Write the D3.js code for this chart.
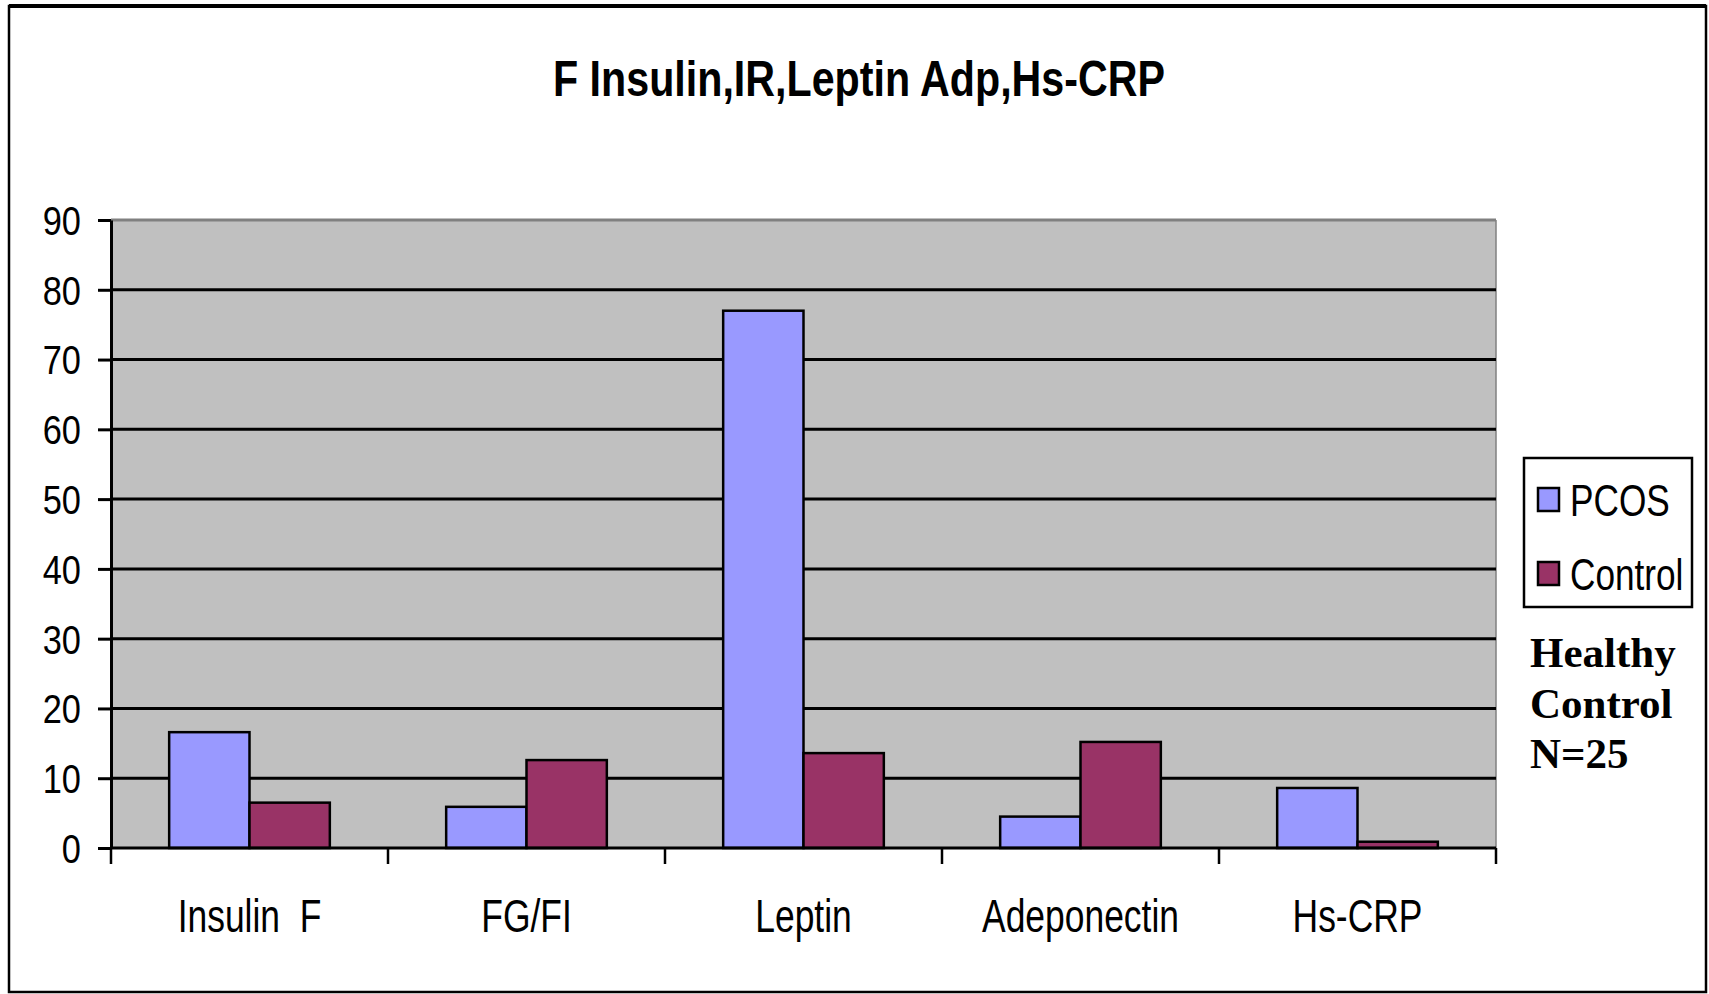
<!DOCTYPE html>
<html>
<head>
<meta charset="utf-8">
<script src="https://cdn.jsdelivr.net/npm/d3@7"></script>
<style>
body { margin: 0; background: #fff; }
svg { display: block; }
</style>
</head>
<body>
<svg id="chart" width="1709" height="994"></svg>
<script>
// chart data
var categories = ["Insulin  F", "FG/FI", "Leptin", "Adeponectin", "Hs-CRP"];
var seriesNames = ["PCOS", "Control"];
var pcos = [16.6, 5.9, 77, 4.5, 8.6];
var control = [6.5, 12.6, 13.6, 15.2, 0.9];
var yTicks = [0, 10, 20, 30, 40, 50, 60, 70, 80, 90];
var noteLines = ["Healthy", "Control", "N=25"];

var colors = ["#9999ff", "#993366"];
var svg = d3.select("#chart");

// outer frame
svg.append("rect")
    .attr("x", 9).attr("y", 6)
    .attr("width", 1697).attr("height", 986)
    .attr("fill", "none")
    .attr("stroke", "#000")
    .attr("stroke-width", 2.5);
svg.append("line")
    .attr("x1", 9).attr("x2", 1706)
    .attr("y1", 6).attr("y2", 6)
    .attr("stroke", "#000").attr("stroke-width", 4);

// title
svg.append("text")
    .attr("x", 859).attr("y", 96)
    .attr("text-anchor", "middle")
    .attr("font-family", "Liberation Sans, Arial, sans-serif")
    .attr("font-weight", "bold")
    .attr("font-size", 50)
    .attr("textLength", 612)
    .attr("lengthAdjust", "spacingAndGlyphs")
    .text("F Insulin,IR,Leptin Adp,Hs-CRP");

var pLeft = 111, pRight = 1496, pTop = 220, pBottom = 848;

var x0 = d3.scaleBand()
    .domain(categories)
    .range([pLeft, pRight])
    .padding(0);

var bw = x0.bandwidth();
var x1 = d3.scaleBand()
    .domain(seriesNames)
    .range([bw * 0.21, bw * 0.79])
    .padding(0);

var y = d3.scaleLinear()
    .domain([0, 90])
    .range([pBottom, pTop]);

// plot background
svg.append("rect")
    .attr("x", pLeft).attr("y", pTop)
    .attr("width", pRight - pLeft).attr("height", pBottom - pTop)
    .attr("fill", "#c0c0c0");

// top and right border of plot
svg.append("line")
    .attr("x1", pLeft).attr("x2", pRight)
    .attr("y1", pTop).attr("y2", pTop)
    .attr("stroke", "#808080").attr("stroke-width", 3);
svg.append("line")
    .attr("x1", pRight).attr("x2", pRight)
    .attr("y1", pTop).attr("y2", pBottom)
    .attr("stroke", "#808080").attr("stroke-width", 1.5);

// gridlines
svg.append("g")
    .selectAll("line")
    .data(yTicks.filter(d => d > 0 && d < 90))
    .enter()
    .append("line")
    .attr("x1", pLeft).attr("x2", pRight)
    .attr("y1", d => y(d)).attr("y2", d => y(d))
    .attr("stroke", "#000")
    .attr("stroke-width", 3);

// bars
var rows = categories.map((c, i) => ({ cat: c, vals: [pcos[i], control[i]] }));

svg.append("g")
    .selectAll("g")
    .data(rows)
    .enter()
    .append("g")
    .attr("transform", d => "translate(" + x0(d.cat) + ",0)")
    .selectAll("rect")
    .data(d => d.vals.map((v, j) => ({ name: seriesNames[j], v: v, j: j })))
    .enter()
    .append("rect")
    .attr("x", d => x1(d.name))
    .attr("y", d => y(d.v))
    .attr("width", x1.bandwidth())
    .attr("height", d => y(0) - y(d.v))
    .attr("fill", d => colors[d.j])
    .attr("stroke", "#000")
    .attr("stroke-width", 2.5);

// y axis
var yAxis = svg.append("g")
    .attr("transform", "translate(" + pLeft + ",0)")
    .call(d3.axisLeft(y).tickValues(yTicks).tickSize(13).tickPadding(17).tickSizeOuter(0));
yAxis.select(".domain").attr("stroke", "#000").attr("stroke-width", 3);
yAxis.selectAll(".tick line").attr("stroke", "#000").attr("stroke-width", 3);
yAxis.selectAll(".tick text")
    .attr("font-family", "Liberation Sans, Arial, sans-serif")
    .attr("font-size", 40)
    .attr("fill", "#000")
    .attr("dy", "0.36em")
    .attr("x", -30 / 0.86)
    .attr("transform", "scale(0.86,1)");

// x axis line
svg.append("line")
    .attr("x1", pLeft).attr("x2", pRight)
    .attr("y1", pBottom).attr("y2", pBottom)
    .attr("stroke", "#000").attr("stroke-width", 3);

// category boundary ticks
var bounds = categories.map(c => x0(c)).concat([pRight]);
svg.append("g")
    .selectAll("line")
    .data(bounds)
    .enter()
    .append("line")
    .attr("x1", d => d).attr("x2", d => d)
    .attr("y1", pBottom).attr("y2", pBottom + 16)
    .attr("stroke", "#000").attr("stroke-width", 2.5);

// category labels
svg.append("g")
    .selectAll("text")
    .data(categories)
    .enter()
    .append("text")
    .attr("transform", d => "translate(" + (x0(d) + bw / 2) + ",932) scale(0.77,1)")
    .attr("text-anchor", "middle")
    .attr("font-family", "Liberation Sans, Arial, sans-serif")
    .attr("font-size", 46)
    .style("white-space", "pre")
    .text(d => d);

// legend
var lg = svg.append("g");
lg.append("rect")
    .attr("x", 1524).attr("y", 458)
    .attr("width", 168).attr("height", 149)
    .attr("fill", "#fff")
    .attr("stroke", "#000")
    .attr("stroke-width", 2.5);
var legY = [499, 573];
seriesNames.forEach((s, i) => {
    lg.append("rect")
        .attr("x", 1538).attr("y", legY[i] - 11)
        .attr("width", 21).attr("height", 23)
        .attr("fill", colors[i])
        .attr("stroke", "#000")
        .attr("stroke-width", 2.5);
    lg.append("text")
        .attr("transform", "translate(1570," + (legY[i] + 17) + ") scale(0.8,1)")
        .attr("font-family", "Liberation Sans, Arial, sans-serif")
        .attr("font-size", 44)
        .text(s);
});

// note
svg.append("g")
    .selectAll("text")
    .data(noteLines)
    .enter()
    .append("text")
    .attr("x", 1530)
    .attr("y", (d, i) => 667 + i * 50.5)
    .attr("font-family", "Liberation Serif, Times New Roman, serif")
    .attr("font-weight", "bold")
    .attr("font-size", 43)
    .text(d => d);
</script>
</body>
</html>
